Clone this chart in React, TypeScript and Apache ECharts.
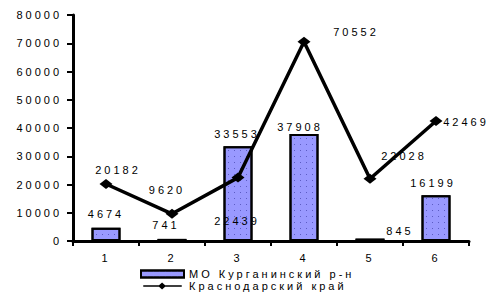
import React, { useEffect, useRef } from "react";
import * as echarts from "echarts";

const categories = ["1", "2", "3", "4", "5", "6"];
const barName = "МО Курганинский р-н";
const lineName = "Краснодарский край";
const barValues = [4674, 741, 33553, 37908, 845, 16199];
const lineValues = [20182, 9620, 22439, 70552, 22028, 42469];

// label nudges (style only)
const barLabelOffsets = [[0, -8], [-6, -8], [-1, -7], [-4, -1], [30, -2], [-3, -7]];
const lineLabelOffsets = [[12, -14], [-5, -24], [-1, 43], [52, -10], [34, -23], [30, 1]];

const FONT = "'Liberation Sans', Arial, sans-serif";
const LINE_ICON = "path://M0,3.2L18,3.2L21.5,0L25,3.2L44,3.2L44,4.8L25,4.8L21.5,8L18,4.8L0,4.8Z";

export default function App() {
  const ref = useRef<HTMLDivElement>(null);
  useEffect(() => {
    if (!ref.current) return;
    const chart = echarts.init(ref.current, undefined, { renderer: "svg" });
    const labelBase = {
      show: true,
      color: "#000",
      fontSize: 11,
      fontFamily: FONT,
    };
    chart.setOption({
      animation: false,
      backgroundColor: "#fff",
      textStyle: { fontFamily: FONT },
      grid: { left: 73, right: 31, top: 15, bottom: 62, containLabel: false },
      legend: {
        orient: "vertical",
        left: 140,
        top: 268,
        itemWidth: 43,
        itemHeight: 7,
        itemGap: 0,
        padding: 0,
        textStyle: { color: "#000", fontSize: 11, fontFamily: FONT, lineHeight: 12 },
        data: [
          { name: barName, icon: "rect" },
          { name: lineName, icon: LINE_ICON, itemStyle: { color: "#000", borderWidth: 0 } },
        ],
      },
      xAxis: {
        type: "category",
        data: categories,
        axisLine: { lineStyle: { color: "#000", width: 3 } },
        axisTick: { show: true, length: 5, lineStyle: { color: "#000", width: 2 } },
        axisLabel: { color: "#000", fontSize: 11, margin: 11, fontFamily: FONT },
      },
      yAxis: {
        type: "value",
        min: 0,
        max: 80000,
        interval: 10000,
        axisLine: { show: true, lineStyle: { color: "#000", width: 3 } },
        axisTick: { show: true, length: 6, lineStyle: { color: "#000", width: 2 } },
        axisLabel: {
          color: "#000",
          fontSize: 11,
          margin: 11,
          fontFamily: FONT,
          formatter: (v: number) => String(v),
        },
        splitLine: { show: false },
      },
      series: [
        {
          name: barName,
          type: "bar",
          barWidth: 29,
          data: barValues.map((v, i) => ({
            value: v,
            label: { offset: barLabelOffsets[i] },
          })),
          itemStyle: {
            color: "#9999ff",
            borderColor: "#000",
            borderWidth: 2,
            decal: {
              symbol: "rect",
              symbolSize: 1,
              color: "#5c5cc4",
              dashArrayX: [1, 5],
              dashArrayY: [1, 5],
              rotation: 0,
            },
          },
          label: { ...labelBase, position: "top", distance: 0 },
          z: 1,
        },
        {
          name: lineName,
          type: "line",
          data: lineValues.map((v, i) => ({
            value: v,
            label: { offset: lineLabelOffsets[i] },
          })),
          symbol: "diamond",
          symbolSize: [13, 10],
          lineStyle: { color: "#000", width: 3.5 },
          itemStyle: { color: "#000" },
          label: {
            ...labelBase,
            position: "inside",
            align: "center",
            verticalAlign: "middle",
          },
          z: 3,
        },
      ],
    });
    return () => chart.dispose();
  }, []);
  return (
    <>
      <style>{"#chartbox text { letter-spacing: 3px; } body { margin: 0; }"}</style>
      <div id="chartbox" ref={ref} style={{ width: 500, height: 303 }} />
    </>
  );
}
